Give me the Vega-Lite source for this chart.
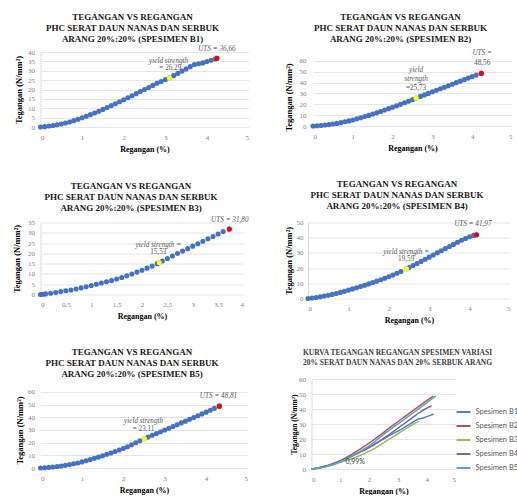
{
"$schema": "https://vega.github.io/schema/vega-lite/v6.json",
"padding": {"left": 11.5, "top": 12, "right": 0, "bottom": 0},
"background": "white",
"config": {
 "view": {"stroke": null},
 "axis": {"labelFont": "Liberation Serif", "labelFontSize": 7, "labelColor": "#7f7f7f", "titleFont": "Liberation Serif", "titleFontWeight": "bold", "titleColor": "#000000", "ticks": false, "grid": false, "domain": false, "labelOverlap": false},
 "axisY": {"grid": true, "gridColor": "#e6e6e6", "domain": true, "domainColor": "#d9d9d9", "titleFontSize": 8.5, "labelPadding": 6, "titlePadding": 2, "minExtent": 15, "maxExtent": 15},
 "axisX": {"titleFontSize": 8, "labelPadding": 6, "titlePadding": 4, "minExtent": 14, "maxExtent": 14},
 "title": {"font": "Liberation Serif", "fontSize": 9, "fontWeight": "bold", "lineHeight": 11, "color": "#1a1a1a", "frame": "group", "anchor": "middle"},
 "text": {"font": "Liberation Serif", "fontSize": 7.2, "color": "#595959", "baseline": "middle"},
 "circle": {"size": 26, "opacity": 1}
},
"datasets": {
 "c": [
  {"s":"Spesimen B1","x":0,"y":0},{"s":"Spesimen B1","x":0.1,"y":0.2},{"s":"Spesimen B1","x":0.2,"y":0.5},{"s":"Spesimen B1","x":0.3,"y":0.8},{"s":"Spesimen B1","x":0.4,"y":1.2},{"s":"Spesimen B1","x":0.5,"y":1.6},{"s":"Spesimen B1","x":0.6,"y":2.1},{"s":"Spesimen B1","x":0.7,"y":2.7},{"s":"Spesimen B1","x":0.8,"y":3.4},{"s":"Spesimen B1","x":0.9,"y":4.1},{"s":"Spesimen B1","x":1.0,"y":4.9},{"s":"Spesimen B1","x":1.1,"y":5.7},{"s":"Spesimen B1","x":1.2,"y":6.6},{"s":"Spesimen B1","x":1.3,"y":7.5},{"s":"Spesimen B1","x":1.4,"y":8.4},{"s":"Spesimen B1","x":1.5,"y":9.4},{"s":"Spesimen B1","x":1.6,"y":10.4},{"s":"Spesimen B1","x":1.7,"y":11.4},{"s":"Spesimen B1","x":1.8,"y":12.4},{"s":"Spesimen B1","x":1.9,"y":13.5},{"s":"Spesimen B1","x":2.0,"y":14.5},{"s":"Spesimen B1","x":2.1,"y":15.6},{"s":"Spesimen B1","x":2.2,"y":16.7},{"s":"Spesimen B1","x":2.3,"y":17.8},{"s":"Spesimen B1","x":2.4,"y":18.9},{"s":"Spesimen B1","x":2.5,"y":20.0},{"s":"Spesimen B1","x":2.6,"y":21.1},{"s":"Spesimen B1","x":2.7,"y":22.2},{"s":"Spesimen B1","x":2.8,"y":23.3},{"s":"Spesimen B1","x":2.9,"y":24.3},{"s":"Spesimen B1","x":3.0,"y":25.3},{"s":"Spesimen B1","x":3.1,"y":26.29},{"s":"Spesimen B1","x":3.2,"y":27.4},{"s":"Spesimen B1","x":3.3,"y":28.6},{"s":"Spesimen B1","x":3.4,"y":29.8},{"s":"Spesimen B1","x":3.5,"y":31.0},{"s":"Spesimen B1","x":3.6,"y":32.2},{"s":"Spesimen B1","x":3.7,"y":33.3},{"s":"Spesimen B1","x":3.8,"y":33.7},{"s":"Spesimen B1","x":3.9,"y":34.2},{"s":"Spesimen B1","x":4.0,"y":34.9},{"s":"Spesimen B1","x":4.1,"y":35.6},{"s":"Spesimen B1","x":4.2,"y":36.3},{"s":"Spesimen B1","x":4.24,"y":36.66},
  {"s":"Spesimen B2","x":0,"y":0},{"s":"Spesimen B2","x":0.1,"y":0.2},{"s":"Spesimen B2","x":0.2,"y":0.5},{"s":"Spesimen B2","x":0.3,"y":0.9},{"s":"Spesimen B2","x":0.4,"y":1.3},{"s":"Spesimen B2","x":0.5,"y":1.8},{"s":"Spesimen B2","x":0.6,"y":2.4},{"s":"Spesimen B2","x":0.7,"y":3.1},{"s":"Spesimen B2","x":0.8,"y":3.9},{"s":"Spesimen B2","x":0.9,"y":4.7},{"s":"Spesimen B2","x":1.0,"y":5.6},{"s":"Spesimen B2","x":1.1,"y":6.6},{"s":"Spesimen B2","x":1.2,"y":7.6},{"s":"Spesimen B2","x":1.3,"y":8.7},{"s":"Spesimen B2","x":1.4,"y":9.8},{"s":"Spesimen B2","x":1.5,"y":11.0},{"s":"Spesimen B2","x":1.6,"y":12.2},{"s":"Spesimen B2","x":1.7,"y":13.4},{"s":"Spesimen B2","x":1.8,"y":14.7},{"s":"Spesimen B2","x":1.9,"y":16.0},{"s":"Spesimen B2","x":2.0,"y":17.3},{"s":"Spesimen B2","x":2.1,"y":18.6},{"s":"Spesimen B2","x":2.2,"y":20.0},{"s":"Spesimen B2","x":2.3,"y":21.4},{"s":"Spesimen B2","x":2.4,"y":22.8},{"s":"Spesimen B2","x":2.5,"y":24.3},{"s":"Spesimen B2","x":2.59,"y":25.73},{"s":"Spesimen B2","x":2.7,"y":27.3},{"s":"Spesimen B2","x":2.8,"y":28.7},{"s":"Spesimen B2","x":2.9,"y":30.1},{"s":"Spesimen B2","x":3.0,"y":31.5},{"s":"Spesimen B2","x":3.1,"y":33.0},{"s":"Spesimen B2","x":3.2,"y":34.4},{"s":"Spesimen B2","x":3.3,"y":35.8},{"s":"Spesimen B2","x":3.4,"y":37.2},{"s":"Spesimen B2","x":3.5,"y":38.6},{"s":"Spesimen B2","x":3.6,"y":40.0},{"s":"Spesimen B2","x":3.7,"y":41.4},{"s":"Spesimen B2","x":3.8,"y":42.8},{"s":"Spesimen B2","x":3.9,"y":44.2},{"s":"Spesimen B2","x":4.0,"y":45.6},{"s":"Spesimen B2","x":4.1,"y":47.0},{"s":"Spesimen B2","x":4.23,"y":48.56},
  {"s":"Spesimen B3","x":0,"y":0},{"s":"Spesimen B3","x":0.05,"y":0.15},{"s":"Spesimen B3","x":0.1,"y":0.3},{"s":"Spesimen B3","x":0.2,"y":0.6},{"s":"Spesimen B3","x":0.3,"y":1.0},{"s":"Spesimen B3","x":0.4,"y":1.4},{"s":"Spesimen B3","x":0.5,"y":1.8},{"s":"Spesimen B3","x":0.6,"y":2.2},{"s":"Spesimen B3","x":0.7,"y":2.7},{"s":"Spesimen B3","x":0.8,"y":3.2},{"s":"Spesimen B3","x":0.9,"y":3.8},{"s":"Spesimen B3","x":1.0,"y":4.4},{"s":"Spesimen B3","x":1.1,"y":5.0},{"s":"Spesimen B3","x":1.2,"y":5.6},{"s":"Spesimen B3","x":1.3,"y":6.2},{"s":"Spesimen B3","x":1.4,"y":6.8},{"s":"Spesimen B3","x":1.5,"y":7.5},{"s":"Spesimen B3","x":1.6,"y":8.3},{"s":"Spesimen B3","x":1.7,"y":9.1},{"s":"Spesimen B3","x":1.8,"y":10.0},{"s":"Spesimen B3","x":1.9,"y":10.9},{"s":"Spesimen B3","x":2.0,"y":11.8},{"s":"Spesimen B3","x":2.1,"y":12.8},{"s":"Spesimen B3","x":2.2,"y":13.8},{"s":"Spesimen B3","x":2.3,"y":15.0},{"s":"Spesimen B3","x":2.34,"y":15.53},{"s":"Spesimen B3","x":2.4,"y":16.3},{"s":"Spesimen B3","x":2.5,"y":17.5},{"s":"Spesimen B3","x":2.6,"y":18.7},{"s":"Spesimen B3","x":2.7,"y":19.9},{"s":"Spesimen B3","x":2.8,"y":21.1},{"s":"Spesimen B3","x":2.9,"y":22.3},{"s":"Spesimen B3","x":3.0,"y":23.5},{"s":"Spesimen B3","x":3.1,"y":24.7},{"s":"Spesimen B3","x":3.2,"y":25.9},{"s":"Spesimen B3","x":3.3,"y":27.1},{"s":"Spesimen B3","x":3.4,"y":28.2},{"s":"Spesimen B3","x":3.5,"y":29.4},{"s":"Spesimen B3","x":3.6,"y":30.6},{"s":"Spesimen B3","x":3.72,"y":31.8},
  {"s":"Spesimen B4","x":0,"y":0},{"s":"Spesimen B4","x":0.1,"y":0.3},{"s":"Spesimen B4","x":0.2,"y":0.7},{"s":"Spesimen B4","x":0.3,"y":1.1},{"s":"Spesimen B4","x":0.4,"y":1.6},{"s":"Spesimen B4","x":0.5,"y":2.1},{"s":"Spesimen B4","x":0.6,"y":2.7},{"s":"Spesimen B4","x":0.7,"y":3.3},{"s":"Spesimen B4","x":0.8,"y":4.0},{"s":"Spesimen B4","x":0.9,"y":4.7},{"s":"Spesimen B4","x":1.0,"y":5.5},{"s":"Spesimen B4","x":1.1,"y":6.3},{"s":"Spesimen B4","x":1.2,"y":7.1},{"s":"Spesimen B4","x":1.3,"y":7.9},{"s":"Spesimen B4","x":1.4,"y":8.7},{"s":"Spesimen B4","x":1.5,"y":9.6},{"s":"Spesimen B4","x":1.6,"y":10.5},{"s":"Spesimen B4","x":1.7,"y":11.4},{"s":"Spesimen B4","x":1.8,"y":12.3},{"s":"Spesimen B4","x":1.9,"y":13.3},{"s":"Spesimen B4","x":2.0,"y":14.3},{"s":"Spesimen B4","x":2.1,"y":15.4},{"s":"Spesimen B4","x":2.2,"y":16.6},{"s":"Spesimen B4","x":2.3,"y":17.8},{"s":"Spesimen B4","x":2.44,"y":19.59},{"s":"Spesimen B4","x":2.5,"y":20.4},{"s":"Spesimen B4","x":2.6,"y":21.7},{"s":"Spesimen B4","x":2.7,"y":23.0},{"s":"Spesimen B4","x":2.8,"y":24.4},{"s":"Spesimen B4","x":2.9,"y":25.8},{"s":"Spesimen B4","x":3.0,"y":27.2},{"s":"Spesimen B4","x":3.1,"y":28.6},{"s":"Spesimen B4","x":3.2,"y":30.0},{"s":"Spesimen B4","x":3.3,"y":31.4},{"s":"Spesimen B4","x":3.4,"y":32.8},{"s":"Spesimen B4","x":3.5,"y":34.2},{"s":"Spesimen B4","x":3.6,"y":35.6},{"s":"Spesimen B4","x":3.7,"y":37.0},{"s":"Spesimen B4","x":3.8,"y":38.3},{"s":"Spesimen B4","x":3.9,"y":39.5},{"s":"Spesimen B4","x":4.0,"y":40.6},{"s":"Spesimen B4","x":4.1,"y":41.5},{"s":"Spesimen B4","x":4.17,"y":41.97},
  {"s":"Spesimen B5","x":0,"y":0},{"s":"Spesimen B5","x":0.1,"y":0.2},{"s":"Spesimen B5","x":0.2,"y":0.5},{"s":"Spesimen B5","x":0.3,"y":0.8},{"s":"Spesimen B5","x":0.4,"y":1.2},{"s":"Spesimen B5","x":0.5,"y":1.6},{"s":"Spesimen B5","x":0.6,"y":2.1},{"s":"Spesimen B5","x":0.7,"y":2.7},{"s":"Spesimen B5","x":0.8,"y":3.3},{"s":"Spesimen B5","x":0.9,"y":4.0},{"s":"Spesimen B5","x":1.0,"y":4.8},{"s":"Spesimen B5","x":1.1,"y":5.7},{"s":"Spesimen B5","x":1.2,"y":6.6},{"s":"Spesimen B5","x":1.3,"y":7.6},{"s":"Spesimen B5","x":1.4,"y":8.6},{"s":"Spesimen B5","x":1.5,"y":9.7},{"s":"Spesimen B5","x":1.6,"y":10.8},{"s":"Spesimen B5","x":1.7,"y":11.9},{"s":"Spesimen B5","x":1.8,"y":13.0},{"s":"Spesimen B5","x":1.9,"y":14.2},{"s":"Spesimen B5","x":2.0,"y":15.4},{"s":"Spesimen B5","x":2.1,"y":16.8},{"s":"Spesimen B5","x":2.2,"y":18.3},{"s":"Spesimen B5","x":2.3,"y":19.9},{"s":"Spesimen B5","x":2.4,"y":21.5},{"s":"Spesimen B5","x":2.51,"y":23.11},{"s":"Spesimen B5","x":2.6,"y":24.4},{"s":"Spesimen B5","x":2.7,"y":25.8},{"s":"Spesimen B5","x":2.8,"y":27.2},{"s":"Spesimen B5","x":2.9,"y":28.6},{"s":"Spesimen B5","x":3.0,"y":30.0},{"s":"Spesimen B5","x":3.1,"y":31.4},{"s":"Spesimen B5","x":3.2,"y":32.8},{"s":"Spesimen B5","x":3.3,"y":34.2},{"s":"Spesimen B5","x":3.4,"y":35.6},{"s":"Spesimen B5","x":3.5,"y":37.0},{"s":"Spesimen B5","x":3.6,"y":38.4},{"s":"Spesimen B5","x":3.7,"y":39.8},{"s":"Spesimen B5","x":3.8,"y":41.2},{"s":"Spesimen B5","x":3.9,"y":42.7},{"s":"Spesimen B5","x":4.0,"y":44.1},{"s":"Spesimen B5","x":4.1,"y":45.6},{"s":"Spesimen B5","x":4.2,"y":47.1},{"s":"Spesimen B5","x":4.32,"y":48.81}
 ],
 "k": [
  {"s":"Spesimen B1","k":"yield","x":3.1,"y":26.29},{"s":"Spesimen B1","k":"uts","x":4.24,"y":36.66},
  {"s":"Spesimen B2","k":"yield","x":2.59,"y":25.73},{"s":"Spesimen B2","k":"uts","x":4.23,"y":48.56},
  {"s":"Spesimen B3","k":"yield","x":2.34,"y":15.53},{"s":"Spesimen B3","k":"uts","x":3.72,"y":31.8},
  {"s":"Spesimen B4","k":"yield","x":2.44,"y":19.59},{"s":"Spesimen B4","k":"uts","x":4.17,"y":41.97},
  {"s":"Spesimen B5","k":"yield","x":2.51,"y":23.11},{"s":"Spesimen B5","k":"uts","x":4.32,"y":48.81}
 ],
 "li": [
  {"s":"Spesimen B1","t":"yield strength","x":3.08,"y":35.2},{"s":"Spesimen B1","t":"UTS = 36,66","x":4.24,"y":41.6},
  {"s":"Spesimen B2","t":"UTS =","x":4.25,"y":67},{"s":"Spesimen B2","t":"yield","x":2.59,"y":51.7},{"s":"Spesimen B2","t":"strength","x":2.59,"y":43},
  {"s":"Spesimen B3","t":"UTS = 31,80","x":3.73,"y":36},{"s":"Spesimen B3","t":"yield strength =","x":2.32,"y":24.3},
  {"s":"Spesimen B4","t":"UTS = 41,97","x":4.08,"y":48.7},{"s":"Spesimen B4","t":"yield strength =","x":2.43,"y":30.9},
  {"s":"Spesimen B5","t":"UTS = 48,81","x":4.3,"y":56.8},{"s":"Spesimen B5","t":"yield strength","x":2.49,"y":37}
 ],
 "ln": [
  {"s":"Spesimen B1","t":"= 26,29","x":3.12,"y":31.5},
  {"s":"Spesimen B2","t":"48,56","x":4.25,"y":58},{"s":"Spesimen B2","t":"=25,73","x":2.59,"y":35},
  {"s":"Spesimen B3","t":"15,53","x":2.32,"y":20.9},
  {"s":"Spesimen B4","t":"19,59","x":2.43,"y":26.3},
  {"s":"Spesimen B5","t":"= 23,11","x":2.49,"y":30.8}
 ],
 "l6": [{"t":"0,99%","x":1.18,"y":4.5}]
},
"resolve": {"scale": {"color": "independent"}, "legend": {"color": "independent"}},
"spacing": 26.5,
"vconcat": [
 {"spacing": 35.5, "hconcat": [
  {"width": 208, "height": 75,
   "title": {"text": ["TEGANGAN VS REGANGAN", "PHC SERAT DAUN NANAS DAN SERBUK", "ARANG 20%:20% (SPESIMEN B1)"], "offset": 1.5, "dx": -12},
   "encoding": {"x": {"field": "x", "type": "quantitative", "scale": {"domain": [0, 5]}, "axis": {"values": [0,1,2,3,4,5], "title": "Regangan (%)"}},
                "y": {"field": "y", "type": "quantitative", "scale": {"domain": [0, 40]}, "axis": {"values": [0,5,10,15,20,25,30,35,40], "title": "Tegangan (N/mm²)"}}},
   "layer": [
    {"data": {"name": "c"}, "transform": [{"filter": "datum.s == 'Spesimen B1'"}], "mark": {"type": "circle", "color": "#4472C4"}},
    {"data": {"name": "k"}, "transform": [{"filter": "datum.s == 'Spesimen B1' && datum.k == 'yield'"}], "mark": {"type": "circle", "color": "#FFFF00"}},
    {"data": {"name": "k"}, "transform": [{"filter": "datum.s == 'Spesimen B1' && datum.k == 'uts'"}], "mark": {"type": "circle", "color": "#FF0000"}},
    {"data": {"name": "li"}, "transform": [{"filter": "datum.s == 'Spesimen B1'"}], "mark": {"type": "text", "fontStyle": "italic"}, "encoding": {"text": {"field": "t"}}},
    {"data": {"name": "ln"}, "transform": [{"filter": "datum.s == 'Spesimen B1'"}], "mark": {"type": "text"}, "encoding": {"text": {"field": "t"}}}
   ]},
  {"width": 199, "height": 74,
   "title": {"text": ["TEGANGAN VS REGANGAN", "PHC SERAT DAUN NANAS DAN SERBUK", "ARANG 20%:20% (SPESIMEN B2)"], "offset": 5.8, "dx": -12},
   "encoding": {"x": {"field": "x", "type": "quantitative", "scale": {"domain": [0, 5]}, "axis": {"values": [0,1,2,3,4,5], "title": "Regangan (%)"}},
                "y": {"field": "y", "type": "quantitative", "scale": {"domain": [0, 68.3], "nice": false}, "axis": {"values": [0,10,20,30,40,50,60], "title": "Tegangan (N/mm²)", "labelPadding": 7, "titlePadding": 5, "titleY": 45, "domain": false}}},
   "layer": [
    {"data": {"name": "c"}, "transform": [{"filter": "datum.s == 'Spesimen B2'"}], "mark": {"type": "circle", "color": "#4472C4"}},
    {"data": {"name": "k"}, "transform": [{"filter": "datum.s == 'Spesimen B2' && datum.k == 'yield'"}], "mark": {"type": "circle", "color": "#FFFF00"}},
    {"data": {"name": "k"}, "transform": [{"filter": "datum.s == 'Spesimen B2' && datum.k == 'uts'"}], "mark": {"type": "circle", "color": "#FF0000"}},
    {"data": {"name": "li"}, "transform": [{"filter": "datum.s == 'Spesimen B2'"}], "mark": {"type": "text", "fontStyle": "italic"}, "encoding": {"text": {"field": "t"}}},
    {"data": {"name": "ln"}, "transform": [{"filter": "datum.s == 'Spesimen B2'"}], "mark": {"type": "text"}, "encoding": {"text": {"field": "t"}}}
   ]}
 ]},
 {"spacing": 22.5, "resolve": {"scale": {"color": "independent"}, "legend": {"color": "independent"}}, "vconcat": [
 {"spacing": 34.5, "hconcat": [
  {"width": 203, "height": 72,
   "title": {"text": ["TEGANGAN VS REGANGAN", "PHC SERAT DAUN NANAS DAN SERBUK", "ARANG 20%:20% (SPESIMEN B3)"], "offset": 3.4, "dx": -11},
   "encoding": {"x": {"field": "x", "type": "quantitative", "scale": {"domain": [0, 4]}, "axis": {"values": [0,0.5,1,1.5,2,2.5,3,3.5,4], "format": ".1~f", "labelExpr": "replace(datum.label, '.', ',')", "title": "Regangan (%)"}},
                "y": {"field": "y", "type": "quantitative", "scale": {"domain": [0, 35]}, "axis": {"values": [0,5,10,15,20,25,30,35], "title": "Tegangan (N/mm²)", "minExtent": 16, "maxExtent": 16, "titlePadding": 3}}},
   "layer": [
    {"data": {"name": "c"}, "transform": [{"filter": "datum.s == 'Spesimen B3'"}], "mark": {"type": "circle", "color": "#4472C4"}},
    {"data": {"name": "k"}, "transform": [{"filter": "datum.s == 'Spesimen B3' && datum.k == 'yield'"}], "mark": {"type": "circle", "color": "#FFFF00"}},
    {"data": {"name": "k"}, "transform": [{"filter": "datum.s == 'Spesimen B3' && datum.k == 'uts'"}], "mark": {"type": "circle", "color": "#FF0000"}},
    {"data": {"name": "li"}, "transform": [{"filter": "datum.s == 'Spesimen B3'"}], "mark": {"type": "text", "fontStyle": "italic"}, "encoding": {"text": {"field": "t"}}},
    {"data": {"name": "ln"}, "transform": [{"filter": "datum.s == 'Spesimen B3'"}], "mark": {"type": "text"}, "encoding": {"text": {"field": "t"}}}
   ]},
  {"width": 202, "height": 76,
   "title": {"text": ["TEGANGAN VS REGANGAN", "PHC SERAT DAUN NANAS DAN SERBUK", "ARANG 20%:20% (SPESIMEN B4)"], "offset": 7.5, "dx": -12},
   "encoding": {"x": {"field": "x", "type": "quantitative", "scale": {"domain": [0, 5]}, "axis": {"values": [0,1,2,3,4,5], "title": "Regangan (%)"}},
                "y": {"field": "y", "type": "quantitative", "scale": {"domain": [0, 50]}, "axis": {"values": [0,10,20,30,40,50], "title": "Tegangan (N/mm²)", "labelPadding": 5, "minExtent": 13, "maxExtent": 13}}},
   "layer": [
    {"data": {"name": "c"}, "transform": [{"filter": "datum.s == 'Spesimen B4'"}], "mark": {"type": "circle", "color": "#4472C4"}},
    {"data": {"name": "k"}, "transform": [{"filter": "datum.s == 'Spesimen B4' && datum.k == 'yield'"}], "mark": {"type": "circle", "color": "#FFFF00"}},
    {"data": {"name": "k"}, "transform": [{"filter": "datum.s == 'Spesimen B4' && datum.k == 'uts'"}], "mark": {"type": "circle", "color": "#FF0000"}},
    {"data": {"name": "li"}, "transform": [{"filter": "datum.s == 'Spesimen B4'"}], "mark": {"type": "text", "fontStyle": "italic"}, "encoding": {"text": {"field": "t"}}},
    {"data": {"name": "ln"}, "transform": [{"filter": "datum.s == 'Spesimen B4'"}], "mark": {"type": "text"}, "encoding": {"text": {"field": "t"}}}
   ]}
 ]},
 {"spacing": 42, "resolve": {"scale": {"color": "independent"}, "legend": {"color": "independent"}}, "hconcat": [
  {"width": 207, "height": 89,
   "title": {"text": ["TEGANGAN VS REGANGAN", "PHC SERAT DAUN NANAS DAN SERBUK", "ARANG 20%:20% (SPESIMEN B5)"], "offset": 0.5, "dx": -12},
   "encoding": {"x": {"field": "x", "type": "quantitative", "scale": {"domain": [0, 5]}, "axis": {"values": [0,1,2,3,4,5], "title": "Regangan (%)"}},
                "y": {"field": "y", "type": "quantitative", "scale": {"domain": [0, 70.26], "nice": false}, "axis": {"values": [0,10,20,30,40,50,60], "title": "Tegangan (N/mm²)", "minExtent": 14, "maxExtent": 14, "titleY": 51, "domain": false}}},
   "layer": [
    {"data": {"name": "c"}, "transform": [{"filter": "datum.s == 'Spesimen B5'"}], "mark": {"type": "circle", "color": "#4472C4"}},
    {"data": {"name": "k"}, "transform": [{"filter": "datum.s == 'Spesimen B5' && datum.k == 'yield'"}], "mark": {"type": "circle", "color": "#FFFF00"}},
    {"data": {"name": "k"}, "transform": [{"filter": "datum.s == 'Spesimen B5' && datum.k == 'uts'"}], "mark": {"type": "circle", "color": "#FF0000"}},
    {"data": {"name": "li"}, "transform": [{"filter": "datum.s == 'Spesimen B5'"}], "mark": {"type": "text", "fontStyle": "italic"}, "encoding": {"text": {"field": "t"}}},
    {"data": {"name": "ln"}, "transform": [{"filter": "datum.s == 'Spesimen B5'"}], "mark": {"type": "text"}, "encoding": {"text": {"field": "t"}}}
   ]},
  {"width": 144, "height": 90,
   "title": {"text": ["KURVA TEGANGAN REGANGAN SPESIMEN VARIASI", "20% SERAT DAUN NANAS DAN 20% SERBUK ARANG"], "fontSize": 7.5, "lineHeight": 9.5, "offset": 9, "dx": 14, "color": "#404040"},
   "encoding": {"x": {"field": "x", "type": "quantitative", "scale": {"domain": [0, 5]}, "axis": {"values": [0,1,2,3,4,5], "title": "Regangan (%)"}},
                "y": {"field": "y", "type": "quantitative", "scale": {"domain": [0, 60]}, "axis": {"values": [0,10,20,30,40,50,60], "title": "Tegangan (N/mm²)", "titleFontSize": 7.5, "minExtent": 12, "maxExtent": 12, "titlePadding": 1.5}}},
   "layer": [
    {"data": {"name": "c"}, "mark": {"type": "line", "strokeWidth": 1.5},
     "encoding": {"color": {"field": "s", "type": "nominal", "scale": {"domain": ["Spesimen B1","Spesimen B2","Spesimen B3","Spesimen B4","Spesimen B5"], "range": ["#4F81BD","#C0504D","#9BBB59","#8064A2","#4BACC6"]},
                            "legend": {"title": null, "orient": "none", "legendX": 144, "legendY": 25, "symbolType": "stroke", "symbolStrokeWidth": 2, "symbolSize": 196, "labelFont": "Lato", "labelFontSize": 7.5, "labelColor": "#595959", "rowPadding": 2, "labelOffset": 4}}}},
    {"data": {"name": "l6"}, "mark": {"type": "text", "font": "Lato", "fontSize": 7, "color": "#404040", "align": "left"}, "encoding": {"text": {"field": "t"}}}
   ]}
 ]}
 ]}
]
}
